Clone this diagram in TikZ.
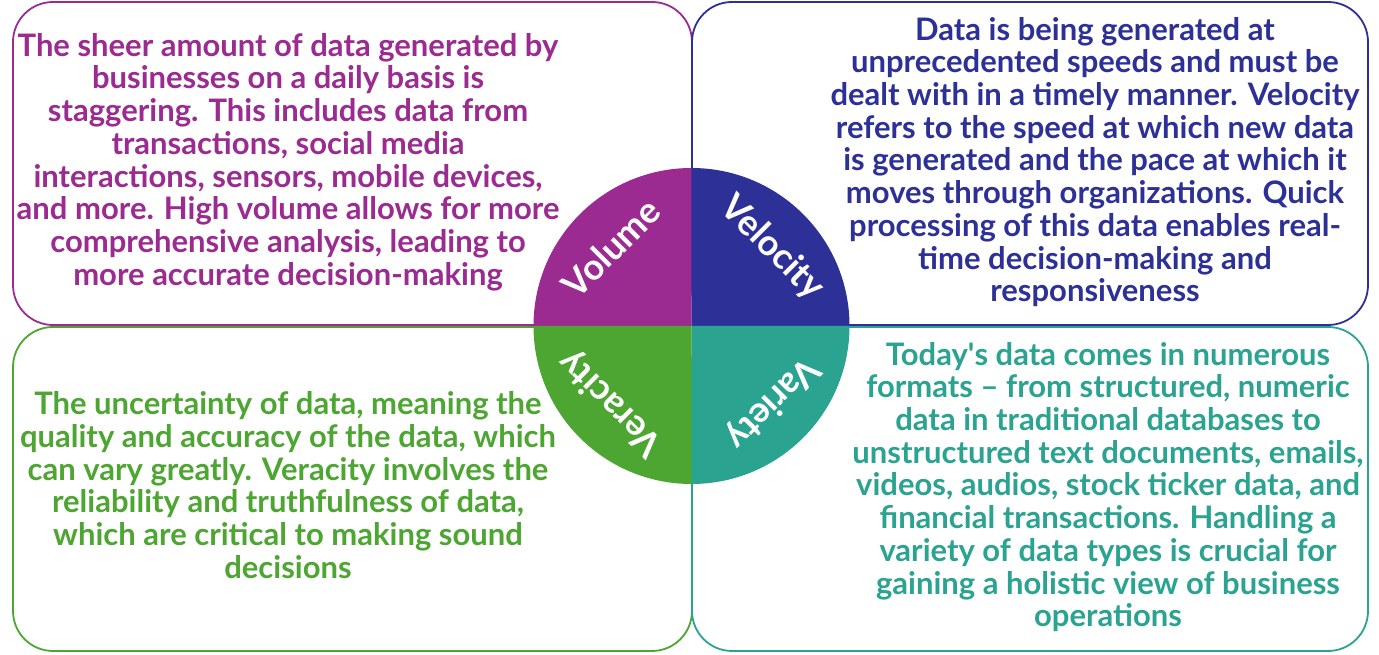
\documentclass[tikz,border=0pt]{standalone}
\usepackage{fontspec}
\setmainfont{Lato}
\usetikzlibrary{positioning}
\definecolor{volcol}{HTML}{9B2A91}
\definecolor{velcol}{HTML}{2D3096}
\definecolor{vercol}{HTML}{4DA632}
\definecolor{varcol}{HTML}{2AA391}
\tikzset{
  quad/.style={draw=#1, line width=1.8pt, rounded corners=40pt, fill=white},
  desc/.style={text=#1, font=\bfseries\fontsize{31}{32.7}\selectfont, align=center, inner sep=0pt},
  vword/.style={text=white, font=\bfseries\fontsize{36}{38}\selectfont, inner sep=0pt}
}

\begin{document}
\begin{tikzpicture}[x=1pt,y=1pt]
\useasboundingbox (0,0) rectangle (1379,655);
\draw[quad=volcol] (13,330) rectangle (692,653);
\draw[quad=velcol] (692,330) rectangle (1368,653);
\draw[quad=vercol] (13,4) rectangle (692,328);
\draw[quad=varcol] (692,4) rectangle (1368,328);

\coordinate (hub) at (691.5,329);
\fill[volcol] (hub) -- ++(-158,0) arc (180:90:158) -- cycle;
\fill[velcol] (hub) -- ++(0,158) arc (90:0:158) -- cycle;
\fill[varcol] (hub) -- ++(158,0) arc (0:-90:158) -- cycle;
\fill[vercol] (hub) -- ++(0,-158) arc (-90:-180:158) -- cycle;

\node[vword, rotate=45] (vol) at (611,407) {Volume};
\node[vword, rotate=-45] (vel) at (772,407) {Velocity};
\node[vword, rotate=135] (ver) at (611,252) {Veracity};
\node[vword, rotate=-135] (var) at (772,252) {Variety};

\node[desc=volcol] (voltext) at (288,493) {The sheer amount of data generated by\\ businesses on a daily basis is\\ staggering. This includes data from\\ transactions, social media\\ interactions, sensors, mobile devices,\\ and more. High volume allows for more\\ comprehensive analysis, leading to\\ more accurate decision-making};
\node[desc=velcol] (veltext) at (1095,493) {Data is being generated at\\ unprecedented speeds and must be\\ dealt with in a timely manner. Velocity\\ refers to the speed at which new data\\ is generated and the pace at which it\\ moves through organizations. Quick\\ processing of this data enables real-\\ time decision-making and\\ responsiveness};
\node[desc=vercol] (vertext) at (288,170) {The uncertainty of data, meaning the\\ quality and accuracy of the data, which\\ can vary greatly. Veracity involves the\\ reliability and truthfulness of data,\\ which are critical to making sound\\ decisions};
\node[desc=varcol] (vartext) at (1108,168) {Today\textquotesingle s data comes in numerous\\ formats -- from structured, numeric\\ data in traditional databases to\\ unstructured text documents, emails,\\ videos, audios, stock ticker data, and\\ financial transactions. Handling a\\ variety of data types is crucial for\\ gaining a holistic view of business\\ operations};
\end{tikzpicture}
\end{document}
